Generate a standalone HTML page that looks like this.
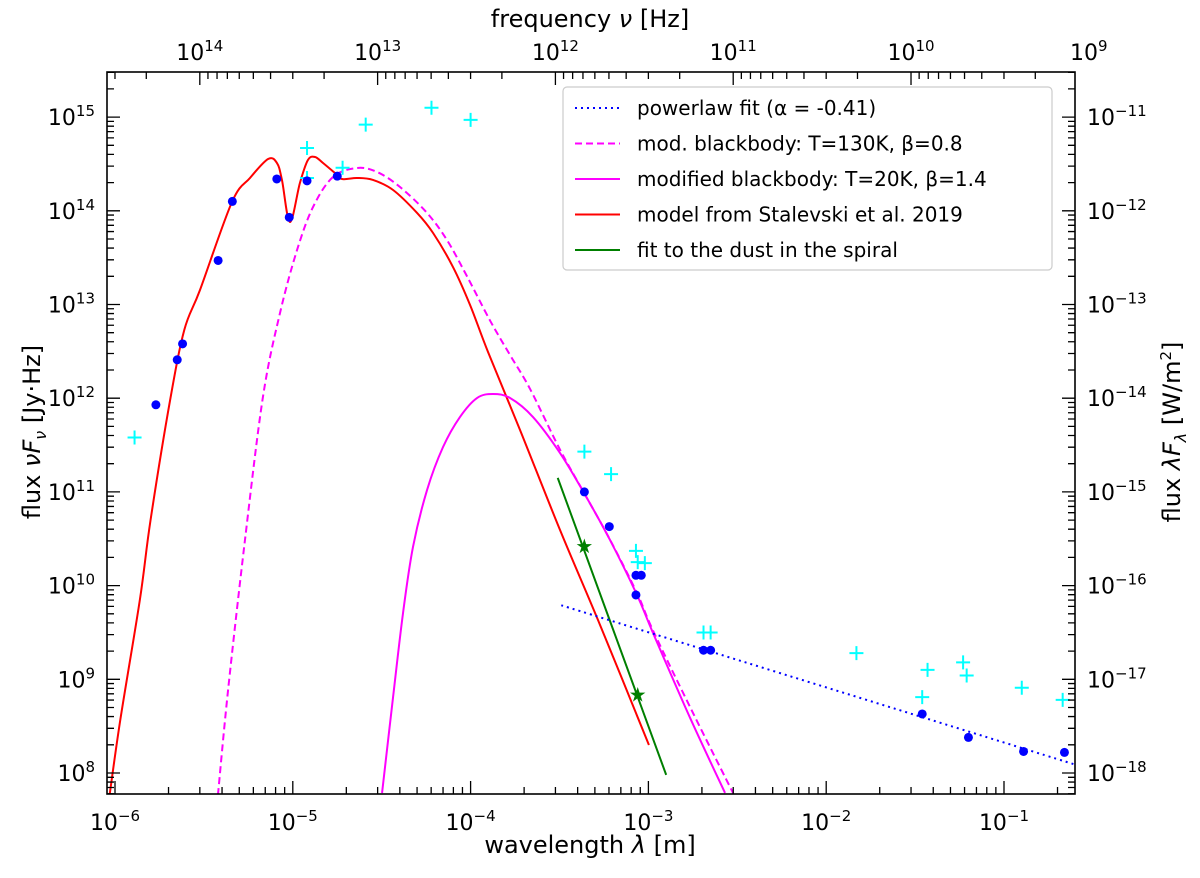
<!DOCTYPE html>
<html><head><meta charset="utf-8"><style>
body{margin:0;background:#fff}
svg{font-family:"DejaVu Sans","Liberation Sans",sans-serif}
</style></head><body>
<svg id="chart" width="1200" height="873" xmlns="http://www.w3.org/2000/svg">
<rect width="1200" height="873" fill="#fff"/>
<g id="plot"></g>
</svg>
<script>
const blueX=[-5.77,-5.65,-5.62,-5.42,-5.34,-5.09,-5.02,-4.92,-4.75,-3.36,-3.22,-3.07,-3.04,-3.07,-2.69,-2.65,-1.46,-1.20,-0.89,-0.66];
const blueY=[11.93,12.41,12.58,13.47,14.10,14.34,13.93,14.32,14.37,11.0,10.63,10.11,10.11,9.90,9.31,9.31,8.63,8.38,8.23,8.22];
const cyanX=[-5.89,-4.92,-4.92,-4.72,-4.59,-4.22,-4.0,-3.36,-3.21,-3.07,-3.06,-3.02,-2.69,-2.65,-1.83,-1.46,-1.43,-1.23,-1.21,-0.90,-0.67];
const cyanY=[11.58,14.67,14.35,14.46,14.92,15.10,14.97,11.43,11.19,10.37,10.25,10.24,9.50,9.50,9.28,8.81,9.10,9.18,9.04,8.91,8.78];
const starX=[-3.36,-3.06];
const starY=[10.42,8.84];
const redX=[-6.03,-5.97,-5.86,-5.80,-5.69,-5.61,-5.522,-5.342,-5.241,-5.139,-5.089,-5.061,-5.016,-4.96,-4.915,-4.875,-4.83,-4.763,-4.723,-4.639,-4.549,-4.436,-4.301,-4.211,-4.099,-4.003,-3.902,-3.722,-3.497,-3.272,-2.997];
const redY=[7.77,8.57,9.85,10.70,11.98,12.73,13.155,14.094,14.35,14.553,14.51,14.329,13.88,14.297,14.542,14.574,14.51,14.403,14.339,14.35,14.329,14.222,13.977,13.763,13.40,12.995,12.493,11.661,10.593,9.58,8.299];
const dashX=[-5.421,-5.364,-5.269,-5.168,-5.072,-4.976,-4.886,-4.774,-4.639,-4.526,-4.397,-4.245,-4.133,-4.02,-3.891,-3.778,-3.666,-3.497,-3.362,-3.216,-3.064,-2.974,-2.749,-2.524];
const dashY=[7.765,8.886,10.487,12.013,12.909,13.582,14.041,14.361,14.457,14.414,14.254,13.977,13.688,13.30,12.83,12.46,12.10,11.45,10.99,10.49,9.92,9.52,8.64,7.787];
const bbX=[-4.498,-4.436,-4.38,-4.324,-4.245,-4.155,-4.06,-3.964,-3.874,-3.778,-3.649,-3.497,-3.362,-3.216,-3.064,-2.974,-2.766,-2.569];
const bbY=[7.787,8.811,9.708,10.412,11.02,11.479,11.799,12.002,12.045,12.002,11.799,11.415,10.988,10.487,9.9,9.494,8.59,7.787];
const greenX=[-3.51,-2.90];
const greenY=[11.15,7.98];
const powX=[-3.49,-0.60];
const powY=[9.79,8.09];
const xTicks=[-6,-5,-4,-3,-2,-1];
const yTicks=[8,9,10,11,12,13,14,15];
const fTicks=[14,13,12,11,10,9];

const X0=107,X1=1075,Y0=72,Y1=794;
const sx=l=>115+177.8*(l+6);
const sy=l=>773-93.7*(l-8);
const g=document.getElementById('plot');
const NS='http://www.w3.org/2000/svg';
function mk(tag,attrs,parent){const e=document.createElementNS(NS,tag);for(const k in attrs)e.setAttribute(k,attrs[k]);(parent||g).appendChild(e);return e;}
const clip=mk('clipPath',{id:'cp'});mk('rect',{x:X0,y:Y0,width:X1-X0,height:Y1-Y0},clip);
const data=mk('g',{'clip-path':'url(#cp)'});


function smooth(xs,ys){const P=xs.map((x,i)=>[sx(x),sy(ys[i])]);let d=`M${P[0][0]},${P[0][1]}`;
 for(let i=0;i<P.length-1;i++){const p0=P[Math.max(0,i-1)],p1=P[i],p2=P[i+1],p3=P[Math.min(P.length-1,i+2)];
  const c1=[p1[0]+(p2[0]-p0[0])/6,p1[1]+(p2[1]-p0[1])/6],c2=[p2[0]-(p3[0]-p1[0])/6,p2[1]-(p3[1]-p1[1])/6];
  d+=`C${c1[0]},${c1[1]} ${c2[0]},${c2[1]} ${p2[0]},${p2[1]}`;}
 return d;}
function line(xs,ys,style,name){const p=mk('path',Object.assign({d:smooth(xs,ys),fill:'none'},style),data);

}
line(redX,redY,{stroke:'#ff0000','stroke-width':2},'stalevski-model-line');
line(dashX,dashY,{stroke:'#ff00ff','stroke-width':2,'stroke-dasharray':'7,4'},'blackbody-130k-line');
line(bbX,bbY,{stroke:'#ff00ff','stroke-width':2},'blackbody-20k-line');
line(greenX,greenY,{stroke:'#007f00','stroke-width':2},'spiral-dust-fit-line');
line(powX,powY,{stroke:'#0000ff','stroke-width':2,'stroke-dasharray':'2,4'},'powerlaw-fit-line');
cyanX.forEach((x,i)=>{const c=mk('path',{d:`M${sx(x)-7},${sy(cyanY[i])}h14M${sx(x)},${sy(cyanY[i])-7}v14`,stroke:'#00ffff','stroke-width':2},data);

});
blueX.forEach((x,i)=>{const c=mk('circle',{cx:sx(x),cy:sy(blueY[i]),r:4.5,fill:'#0000ff'},data);

});
starX.forEach((x,i)=>{const t=mk('text',{x:sx(x),y:sy(starY[i])+7,'text-anchor':'middle','font-size':20,fill:'#007f00'},data);t.textContent='★';

});
const fr=mk('rect',{x:X0,y:Y0,width:X1-X0,height:Y1-Y0,fill:'none',stroke:'#000','stroke-width':1.6});


const minors=[2,3,4,5,6,7,8,9].map(m=>Math.log10(m));
let td='';
for(let d=-7;d<=0;d++){
 const x=sx(d); if(x>=X0&&x<=X1) td+=`M${x},${Y1}v-13`;
 minors.forEach(m=>{const xx=sx(d+m); if(xx>X0&&xx<X1) td+=`M${xx},${Y1}v-7`;});
}
const fx=f=>sx(8.477-f);
for(let f=8;f<=15;f++){
 const x=fx(f); if(x>=X0&&x<=X1) td+=`M${x},${Y0}v13`;
 minors.forEach(m=>{const xx=fx(f+m); if(xx>X0&&xx<X1) td+=`M${xx},${Y0}v7`;});
}
for(let d=7;d<=15;d++){
 const y=sy(d); if(y>=Y0&&y<=Y1) td+=`M${X0},${y}h13M${X1},${y}h-13`;
 minors.forEach(m=>{const yy=sy(d+m); if(yy>Y0&&yy<Y1) td+=`M${X0},${yy}h7M${X1},${yy}h-7`;});
}
mk('path',{d:td,stroke:'#000','stroke-width':1.3,fill:'none'});
function pow(x,y,exp,anchor,name){const t=mk('text',{x,y,'text-anchor':anchor,'font-size':22});
t.innerHTML=`10<tspan dy="-9" font-size="15">${exp}</tspan>`;

}
xTicks.forEach(d=>pow(sx(d),830,'−'+(-d),'middle','x-tick-label'));
fTicks.forEach(f=>pow(fx(f),60,f,'middle','top-tick-label'));
yTicks.forEach(d=>{pow(95,sy(d)+8,d,'end','y-tick-label');pow(1087,sy(d)+8,'−'+(26-d),'start','right-tick-label');});
function txt(x,y,html,attrs,name){const t=mk('text',Object.assign({x,y,'font-size':24,'text-anchor':'middle'},attrs||{}));t.innerHTML=html;

return t;}
txt(590,853,'wavelength <tspan font-style="italic">λ</tspan> [m]',{},'x-axis-title');
txt(590,27,'frequency <tspan font-style="italic">ν</tspan> [Hz]',{},'top-axis-title');
txt(0,0,'flux <tspan font-style="italic">νF</tspan><tspan font-size="16" dy="6" font-style="italic">ν</tspan><tspan dy="-6"> [Jy·Hz]</tspan>',{transform:'translate(40,432) rotate(-90)'},'y-axis-title');
txt(0,0,'flux <tspan font-style="italic">λF</tspan><tspan font-size="16" dy="6" font-style="italic">λ</tspan><tspan dy="-6"> [W/m</tspan><tspan font-size="15" dy="-9">2</tspan><tspan dy="9">]</tspan>',{transform:'translate(1180,432) rotate(-90)'},'right-axis-title');
const lg=mk('g',{});


mk('rect',{x:563,y:87,width:489,height:183,rx:4,fill:'#fff',stroke:'#ccc','stroke-width':1.2},lg);
const items=[['powerlaw fit (α = -0.41)','#0000ff','2,4'],['mod. blackbody: T=130K, β=0.8','#ff00ff','7,4'],['modified blackbody: T=20K, β=1.4','#ff00ff',''],['model from Stalevski et al. 2019','#ff0000',''],['fit to the dust in the spiral','#007f00','']];
items.forEach((it,i)=>{const y=108+i*35.5;
 const l=mk('line',{x1:575,x2:620,y1:y,y2:y,stroke:it[1],'stroke-width':2,'stroke-dasharray':it[2]||'none'},lg);
 
 
 const t=mk('text',{x:637,y:y+7,'font-size':20},lg);t.textContent=it[0];
 
 });
</script>
</body></html>
